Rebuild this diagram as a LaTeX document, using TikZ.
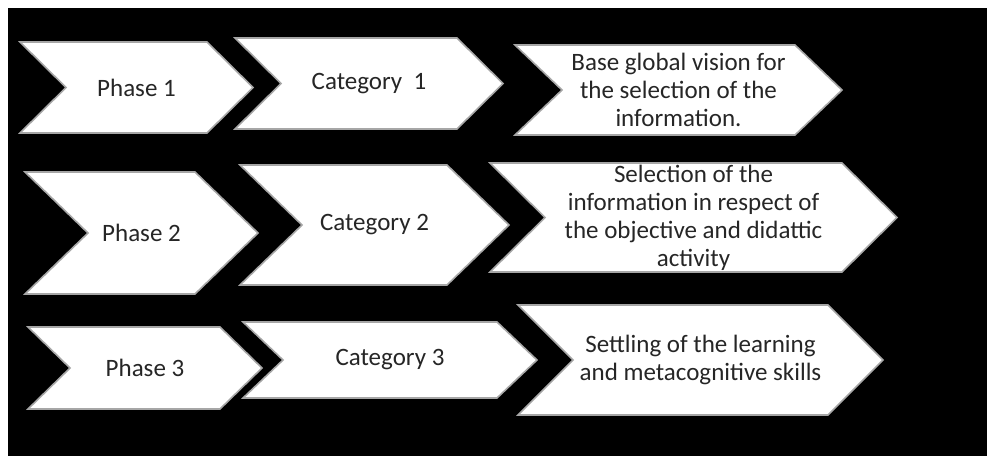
\documentclass[tikz,border=0pt]{standalone}
\usepackage{fontspec}
\setmainfont{Carlito}
\definecolor{edgegray}{HTML}{A6A6A6}
\definecolor{txt}{HTML}{262626}
\tikzset{
  chevshape/.style={fill=white, draw=edgegray, line width=1.6pt, line join=miter},
  chevtext/.style={text=txt, align=center, inner sep=0pt, font=\fontsize{25}{28}\selectfont}
}
% #1 name, #2 x1, #3 x2, #4 y1, #5 y2, #6 depth, #7 text
\newcommand{\mychev}[7]{%
  \pgfmathsetmacro{\ym}{(#4+#5)/2}%
  \pgfmathsetmacro{\xt}{#3+#6}%
  \pgfmathsetmacro{\xn}{#2+#6}%
  \pgfmathsetmacro{\xc}{(#2+#6+#3)/2}%
  \path[chevshape] (#2,#4) -- (#3,#4) -- (\xt,\ym) -- (#3,#5) -- (#2,#5) -- (\xn,\ym) -- cycle;
  \node[chevtext] (#1) at (\xc,\ym) {#7};%
}
\begin{document}
\begin{tikzpicture}[x=1pt,y=-1pt]
\useasboundingbox (0,0) rectangle (987,456);
\fill[white] (0,0) rectangle (987,456);
\fill[black] (8,8) rectangle (987,456);
% row 1
\mychev{p1}{20}{207}{42}{133}{46}{Phase 1}
\mychev{c1}{235}{457}{38}{129}{46}{Category\ \ 1}
\mychev{b1}{515}{795}{45}{135}{47}{Base global vision for\\the selection of the\\information.}
% row 2
\mychev{p2}{25}{195}{172}{294}{63}{Phase 2}
\mychev{c2}{240}{447}{165}{285}{62}{Category 2}
\mychev{b2}{490}{842}{163}{272}{55}{Selection of the\\information in respect of\\the objective and didattic\\activity}
% row 3
\mychev{p3}{28}{220}{327}{409}{42}{Phase 3}
\mychev{c3}{243}{497}{322}{398}{40}{Category 3}
\mychev{b3}{518}{828}{305}{415}{55}{Settling of the learning\\and metacognitive skills}
\end{tikzpicture}
\end{document}
